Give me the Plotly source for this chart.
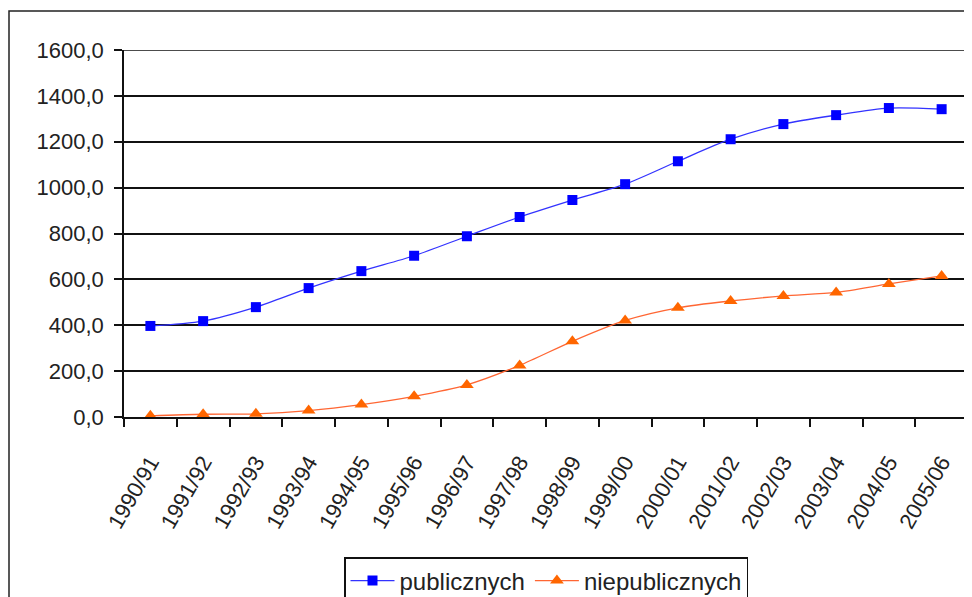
import plotly.graph_objects as go

years = ["1990/91", "1991/92", "1992/93", "1993/94", "1994/95", "1995/96", "1996/97", "1997/98",
         "1998/99", "1999/00", "2000/01", "2001/02", "2002/03", "2003/04", "2004/05", "2005/06"]
publicznych = [397, 418, 479, 562, 636, 703, 788, 872, 946, 1015, 1115, 1211, 1277, 1316, 1347, 1342]
niepublicznych = [5, 12, 14, 28, 54, 90, 140, 225, 330, 421, 476, 506, 528, 543, 580, 615]

FONT = "Liberation Sans, Arial, sans-serif"

fig = go.Figure()
fig.add_trace(go.Scatter(
    x=years, y=publicznych, name="publicznych", mode="lines+markers",
    line=dict(color="#3333FF", width=1.3, shape="spline", smoothing=0.8),
    marker=dict(symbol="square", size=10, color="#0000FF"),
))
fig.add_trace(go.Scatter(
    x=years, y=niepublicznych, name="niepublicznych", mode="lines+markers",
    line=dict(color="#FF6633", width=1.3, shape="spline", smoothing=0.8),
    marker=dict(symbol="triangle-up", size=12, color="#FF6600"),
))

fig.update_layout(
    width=964, height=589,
    margin=dict(l=116, r=4, t=42, b=180, autoexpand=False),
    paper_bgcolor="white", plot_bgcolor="white",
    font=dict(family=FONT, color="#222222"),
    separators=", ",
    showlegend=True,
    legend=dict(
        orientation="h", x=0.5, xanchor="center",
        yref="container", y=1 - 549 / 589, yanchor="top",
        bordercolor="#111111", borderwidth=1.5, bgcolor="white",
        font=dict(size=24, family=FONT, color="#222222"),
        itemwidth=44,
    ),
    xaxis=dict(
        type="category", range=[-0.5, 15.5], tickson="boundaries",
        ticks="outside", ticklen=8, tickcolor="#111111", tickwidth=1.5,
        showline=True, linecolor="#111111", linewidth=1.5,
        showgrid=False, tickangle=-60, ticklabelstandoff=22,
        tickfont=dict(size=22, family=FONT, color="#222222"),
    ),
    yaxis=dict(
        range=[0, 1600], dtick=200, tickformat=".1f",
        ticks="outside", ticklen=8, tickcolor="#111111", tickwidth=1.5,
        showline=True, linecolor="#111111", linewidth=1.5,
        showgrid=True, gridcolor="#111111", gridwidth=1.5, zeroline=False,
        ticklabelstandoff=6,
        tickfont=dict(size=22, family=FONT, color="#222222"),
    ),
    shapes=[
        dict(
            type="rect", xref="paper", yref="paper",
            x0=(1 - 116) / 844, x1=1.2, y0=-0.7, y1=1 + (42 - 3) / 367,
            line=dict(color="#222222", width=1.5), fillcolor="rgba(0,0,0,0)", layer="below",
        ),
        dict(
            type="line", xref="paper", yref="y", x0=0, x1=1, y0=1600, y1=1600,
            line=dict(color="#111111", width=1.5), layer="below",
        ),
    ],
)

fig.write_html("out.html")
